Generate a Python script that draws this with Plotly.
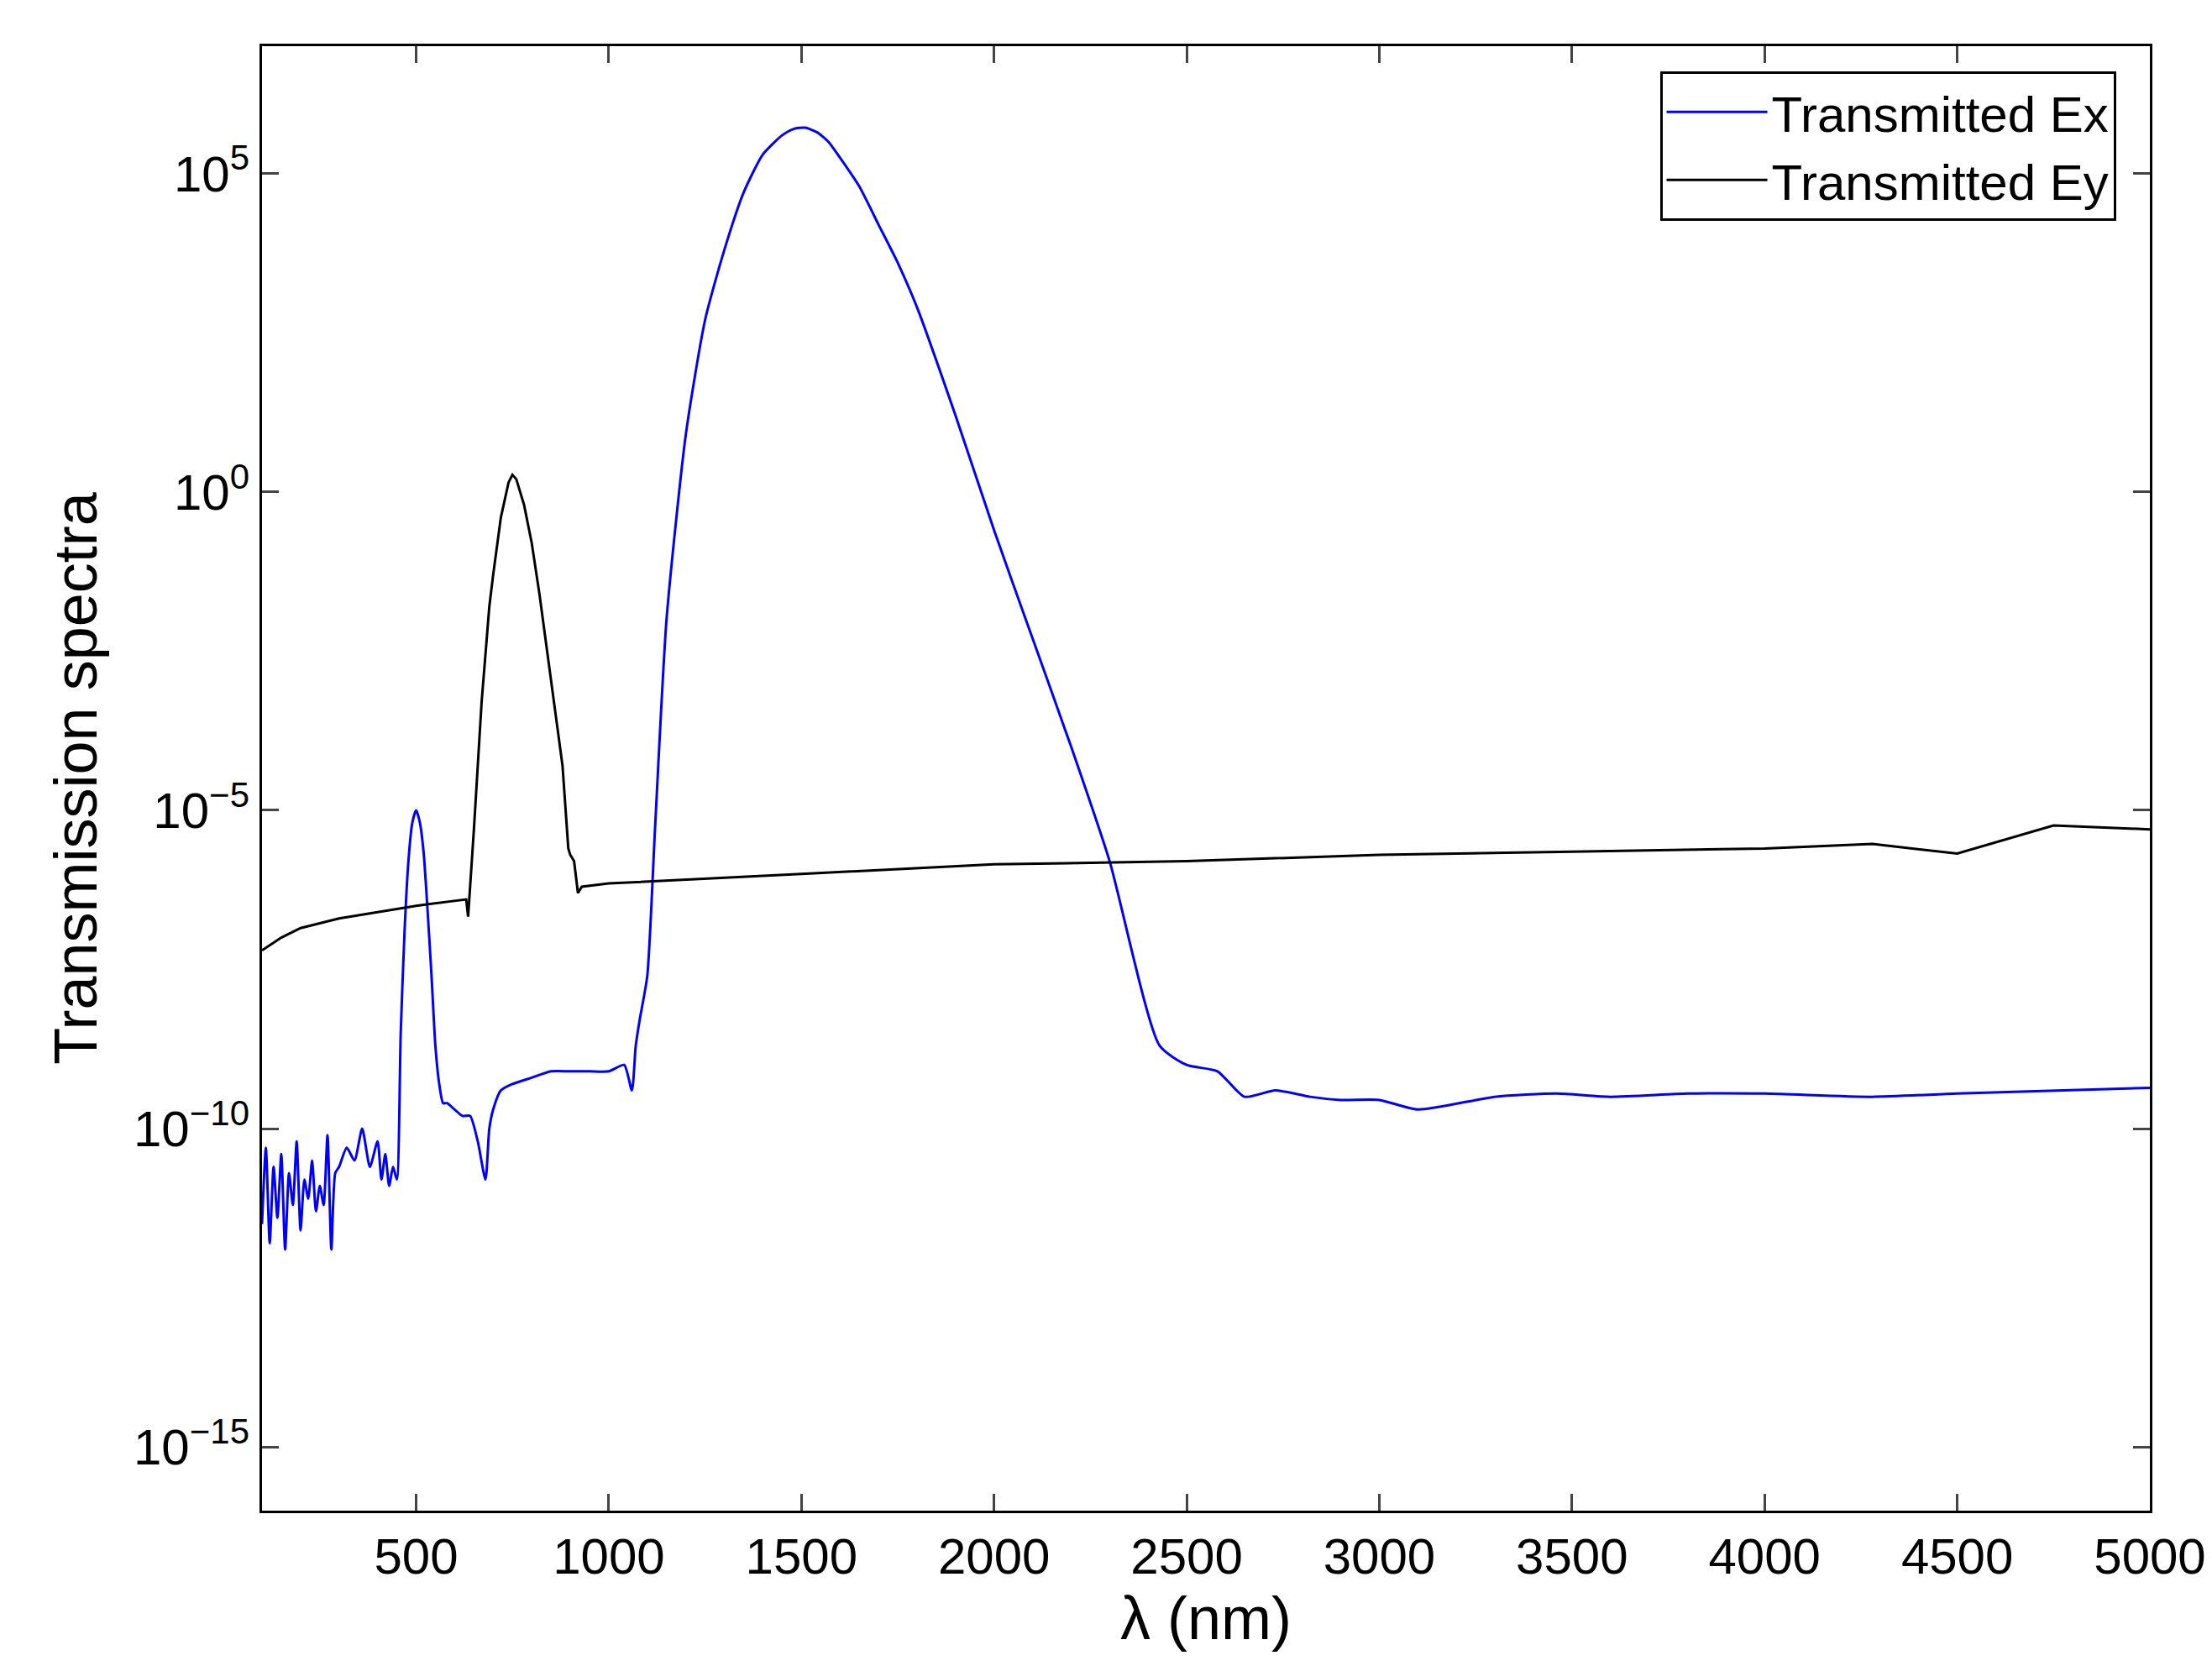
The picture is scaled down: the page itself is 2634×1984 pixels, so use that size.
import plotly.graph_objects as go

ex_x = [100,110,120,130,140,150,160,170,180,190,200,210,220,230,240,250,260,270,280,290,300,320,340,360,380,400,410,420,430,440,450,460,470,480,490,500,510,520,530,540,550,560,570,580,600,620,640,660,680,690,700,720,750,800,850,900,950,1000,1040,1060,1070,1080,1100,1120,1150,1200,1250,1300,1350,1400,1450,1480,1510,1540,1570,1600,1650,1700,1750,1800,1900,2000,2100,2200,2300,2430,2500,2580,2650,2730,2820,2900,3000,3100,3300,3460,3600,3800,4000,4280,4500,5000]
ex_logy = [-11.5,-10.3,-11.8,-10.6,-11.4,-10.4,-11.9,-10.7,-11.2,-10.2,-11.6,-10.8,-11.1,-10.5,-11.3,-10.9,-11.2,-10.1,-11.9,-10.7,-10.6,-10.3,-10.5,-10.0,-10.6,-10.2,-10.8,-10.4,-10.9,-10.6,-10.8,-8.5,-6.9,-5.8,-5.2,-5.0,-5.2,-5.7,-6.6,-7.6,-8.7,-9.3,-9.6,-9.6,-9.7,-9.8,-9.8,-10.2,-10.8,-10.0,-9.7,-9.4,-9.3,-9.2,-9.1,-9.1,-9.1,-9.1,-9.0,-9.4,-8.7,-8.3,-7.6,-5.3,-2.0,0.9,2.7,3.8,4.7,5.3,5.6,5.7,5.72,5.65,5.5,5.25,4.8,4.2,3.6,2.9,1.2,-0.6,-2.3,-4.0,-5.8,-8.7,-9.0,-9.1,-9.5,-9.4,-9.5,-9.55,-9.55,-9.7,-9.5,-9.45,-9.5,-9.45,-9.45,-9.5,-9.45,-9.36]

ey_x = [100,150,200,300,400,500,630,635,650,670,690,700,720,740,750,760,780,800,820,840,860,880,895,900,910,920,930,1000,1500,2000,2500,3000,3500,4000,4280,4500,4750,5000]
ey_logy = [-7.2,-7.0,-6.85,-6.7,-6.6,-6.5,-6.4,-6.67,-5.3,-3.3,-1.8,-1.3,-0.4,0.15,0.27,0.2,-0.2,-0.8,-1.6,-2.5,-3.4,-4.3,-5.6,-5.7,-5.8,-6.3,-6.2,-6.15,-6.0,-5.85,-5.8,-5.7,-5.65,-5.6,-5.53,-5.68,-5.24,-5.3]

tickvals = [1e-15, 1e-10, 1e-5, 1, 1e5]
ticktext = ["10<sup>−15</sup>", "10<sup>−10</sup>", "10<sup>−5</sup>", "10<sup>0</sup>", "10<sup>5</sup>"]

fig = go.Figure()
fig.add_trace(go.Scatter(x=ex_x, y=[10**v for v in ex_logy], mode="lines", line_shape="spline",
                         line=dict(color="#0000ff", width=3, smoothing=0.6), name="Transmitted Ex"))
fig.add_trace(go.Scatter(x=ey_x, y=[10**v for v in ey_logy], mode="lines",
                         line=dict(color="black", width=3), name="Transmitted Ey"))

font = dict(family="Liberation Sans, Arial", size=60, color="black")
fig.update_layout(
    width=2634, height=1984, paper_bgcolor="white", plot_bgcolor="white",
    margin=dict(l=304, r=82, t=47, b=193), font=font,
    showlegend=True,
    legend=dict(x=0.982, y=0.983, xanchor="right", yanchor="top",
                bordercolor="black", borderwidth=3, bgcolor="white", itemwidth=120,
                font=dict(family="Liberation Sans, Arial", size=60)),
    xaxis=dict(range=[100, 5000], tickvals=list(range(500, 5001, 500)),
               ticks="inside", ticklen=20, tickwidth=3, mirror="ticks",
               showline=True, linecolor="black", linewidth=3, showgrid=False,
               zeroline=False, title=dict(text="λ (nm)", standoff=10)),
    yaxis=dict(type="log", range=[-16, 7], tickvals=tickvals, ticktext=ticktext,
               ticks="inside", ticklen=20, tickwidth=3, mirror="ticks",
               showline=True, linecolor="black", linewidth=3, showgrid=False,
               zeroline=False, title=dict(text="Transmission spectra", standoff=20)),
)
fig.write_html("out.html")
